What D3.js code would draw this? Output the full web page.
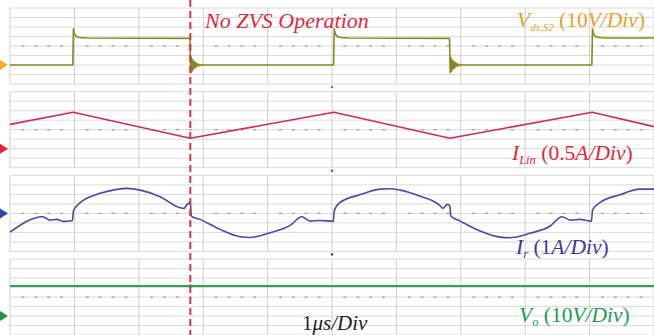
<!DOCTYPE html>
<html>
<head>
<meta charset="utf-8">
<script src="https://cdn.jsdelivr.net/npm/d3@7"></script>
<style>
  html, body { margin: 0; padding: 0; background: #fff; }
  svg { display: block; }
</style>
</head>
<body>
<div id="chart"></div>
<script>
// time base: 1 us / div, 10 divisions
const timeTicks = [0, 1, 2, 3, 4, 5, 6, 7, 8, 9, 10];

// ringing after each hard-switched falling edge of Vds,S2 (offset us, volts)
const ringDt = [0, 0.006, 0.012, 0.018, 0.024, 0.030, 0.037, 0.044, 0.052, 0.060, 0.070, 0.080, 0.092, 0.105, 0.120, 0.140, 0.170, 0.200];
const ringV  = [9, -8, 8, -7, 6.5, -6, 5, -4.5, 4, -3.5, 3, -2.5, 2, -1.5, 1.2, -0.8, 0.4, 0];

// Vds,S2 (V)
const vdsRiseT = [0.975, 0.985, 1.0, 1.03, 1.08, 1.2];
const vdsRiseV = [0, 38, 33, 30, 29, 28.5];
const vdsFallAt = [2.80, 6.83];
const vdsRiseAt = [0.98, 5.03, 9.04];

// I_Lin (A)
const iLinTime  = [0, 0.98, 2.80, 5.03, 6.83, 9.04, 10];
const iLinValue = [1.28, 1.92, 0.55, 1.92, 0.55, 1.92, 1.16];

// I_r (A)
const irTime = [0, 0.51, 0.62, 0.73, 0.82, 0.97, 0.985, 1.09, 1.40, 1.66, 1.82, 2.02, 2.33, 2.64, 2.70, 2.75, 2.80, 2.815,
  2.95, 3.26, 3.57, 3.73, 4.04, 4.35, 4.53, 4.66, 4.81, 5.02, 5.035, 5.12, 5.43, 5.75, 5.90, 6.06, 6.37, 6.68, 6.72, 6.79,
  6.83, 6.845, 6.99, 7.30, 7.61, 7.76, 8.07, 8.39, 8.57, 8.70, 8.85, 9.03, 9.045, 9.16, 9.47, 9.78, 10];
const irValue = [-1.97, -0.35, -0.71, -0.63, -0.84, -0.74, 0.24, 1.13, 2.11, 2.53, 2.63, 2.45, 1.76, 0.60, 0.53, 0.95, 1.13, -0.28,
  -0.63, -1.68, -2.45, -2.53, -2.03, -1.26, -0.35, -0.81, -0.74, -0.84, 0.24, 1.13, 1.96, 2.56, 2.60, 2.45, 1.80, 0.80, 0.53, 0.95,
  0.80, -0.28, -0.81, -1.86, -2.50, -2.56, -2.10, -1.33, -0.35, -0.71, -0.63, -0.81, 0.35, 1.13, 1.96, 2.56, 2.56];

// Vo (V)
const voTime  = [0, 2.79, 2.80, 2.82, 2.84, 6.82, 6.83, 6.86, 10];
const voValue = [31.6, 31.6, 32.6, 31.2, 31.6, 31.6, 32.2, 31.6, 31.6];

// panels: y domain (bottom, top) in signal units, 8 divisions each
const panelDomains = [[-20, 60], [-1, 3], [-4, 4], [-20, 60]];
const panelColors  = ['#8a8820', '#cf2a66', '#4a4aa6', '#2ea24c'];
const markerColors = ['#f0b020', '#e52530', '#2e4aa8', '#1a9a4a'];

// build Vds series from edges
const vdsTime = [0], vdsValue = [0];
vdsRiseAt.forEach((tr, i) => {
  vdsRiseT.forEach((dt, k) => { vdsTime.push(tr + dt - 0.98); vdsValue.push(vdsRiseV[k]); });
  const tf = vdsFallAt[i];
  if (tf !== undefined) {
    vdsTime.push(tf - 0.005); vdsValue.push(28);
    ringDt.forEach((dt, k) => { vdsTime.push(tf + dt); vdsValue.push(ringV[k]); });
  }
});
vdsTime.push(10); vdsValue.push(28.5);

const series = [
  { t: vdsTime, v: vdsValue },
  { t: iLinTime, v: iLinValue },
  { t: irTime, v: irValue },
  { t: voTime, v: voValue }
];

const width = 654, height = 335;
const left = 10, right = 654;
const panelTop0 = 8, panelStep = 83.7, panelH = 76;
const fontSize = 21.5, subSize = 12.5;
const serif = '"Liberation Serif", "Times New Roman", Times, serif';

const svg = d3.select('#chart').append('svg')
  .attr('width', width)
  .attr('height', height)
  .attr('font-family', serif);

const x = d3.scaleLinear().domain([0, 10]).range([left, right]);
const minorTicks = d3.range(0, 50).map(d => d / 5).filter(d => d % 1 !== 0);

series.forEach((s, i) => {
  const top = panelTop0 + i * panelStep;
  const y = d3.scaleLinear().domain(panelDomains[i]).range([top + panelH, top]);
  const yGrid = d3.range(0, 9).map(k => panelDomains[i][0] + k * (panelDomains[i][1] - panelDomains[i][0]) / 8);
  const g = svg.append('g').attr('class', 'panel');

  g.selectAll('line.h').data(yGrid).join('line')
    .attr('class', 'h')
    .attr('x1', left).attr('x2', right)
    .attr('y1', d => y(d)).attr('y2', d => y(d))
    .attr('stroke', '#dadada').attr('stroke-width', 1);

  g.selectAll('line.v').data(timeTicks).join('line')
    .attr('class', 'v')
    .attr('x1', d => x(d)).attr('x2', d => x(d))
    .attr('y1', top).attr('y2', top + panelH)
    .attr('stroke', '#cfcfcf').attr('stroke-width', 1);

  // minor ticks on centre line
  const mid = y(yGrid[4]);
  g.selectAll('line.m').data(minorTicks).join('line')
    .attr('class', 'm')
    .attr('x1', d => x(d) - 1.5).attr('x2', d => x(d) + 1.5)
    .attr('y1', mid).attr('y2', mid)
    .attr('stroke', '#9a9a9a').attr('stroke-width', 1.2);

  // ground marker
  const gy = y(0);
  g.append('path')
    .attr('d', `M0,${gy - 5}L8,${gy}L0,${gy + 5}Z`)
    .attr('fill', markerColors[i]);

  const line = d3.line()
    .x((d, k) => x(s.t[k]))
    .y(d => y(d))
    .curve(i === 2 ? d3.curveMonotoneX : d3.curveLinear);

  g.append('path')
    .datum(s.v)
    .attr('d', line)
    .attr('fill', 'none')
    .attr('stroke', panelColors[i])
    .attr('stroke-width', i === 3 ? 2 : 1.6)
    .attr('stroke-linejoin', 'round');

  // trigger dot under panels 1-3
  if (i < 3) {
    g.append('circle')
      .attr('cx', x(5)).attr('cy', top + panelH + 3)
      .attr('r', 1.3)
      .attr('fill', panelColors[i]);
  }
});

// No-ZVS cursor
svg.append('line')
  .attr('x1', x(2.80)).attr('x2', x(2.80))
  .attr('y1', 0).attr('y2', height)
  .attr('stroke', '#d8333f')
  .attr('stroke-width', 2)
  .attr('stroke-dasharray', '7,4');

svg.append('text')
  .attr('x', 205).attr('y', 28)
  .attr('fill', '#e0283c')
  .attr('font-style', 'italic')
  .attr('font-size', 22)
  .text('No ZVS Operation');

// channel labels
function label(xPos, yPos, color, parts, size) {
  const fs = size || fontSize;
  const t = svg.append('text').attr('x', xPos).attr('y', yPos).attr('fill', color).attr('font-size', fs);
  parts.forEach(p => {
    t.append('tspan')
      .attr('font-style', p.it ? 'italic' : 'normal')
      .attr('font-size', p.sub ? (p.subSize || subSize) : fs)
      .attr('dy', p.dy || 0)
      .text(p.s);
  });
  return t;
}

label(517, 27, '#e6a22c', [
  { s: 'V', it: true }, { s: 'ds,S2', it: true, sub: true, subSize: 11, dy: 4 },
  { s: ' (10', dy: -4 }, { s: 'V/Div', it: true }, { s: ')' }
]);
label(512, 160, '#e0283c', [
  { s: 'I', it: true }, { s: 'Lin', it: true, sub: true, dy: 4 },
  { s: ' (0.5', dy: -4 }, { s: 'A/Div', it: true }, { s: ')' }
]);
label(516, 254, '#3a3a98', [
  { s: 'I', it: true }, { s: 'r', it: true, sub: true, dy: 4 },
  { s: ' (1', dy: -4 }, { s: 'A/Div', it: true }, { s: ')' }
]);
label(519, 322, '#1e9a5a', [
  { s: 'V', it: true }, { s: 'o', it: true, sub: true, dy: 4 },
  { s: ' (10', dy: -4 }, { s: 'V/Div', it: true }, { s: ')' }
]);
label(302, 330, '#222', [
  { s: '1' }, { s: 'μs/Div', it: true }
], 21);
</script>
</body>
</html>
